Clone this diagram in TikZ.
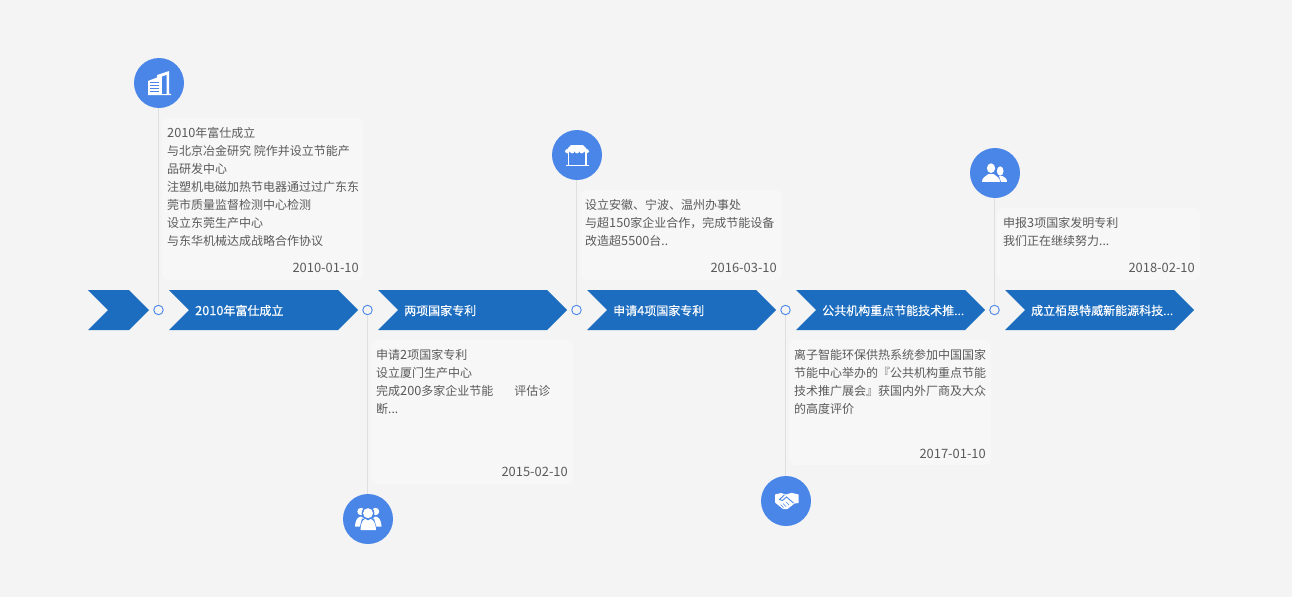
\documentclass[tikz,border=0pt]{standalone}
\usepackage{fontspec}
\setmainfont{Noto Sans CJK SC}
\newfontfamily\dgfont[Scale=1.06]{Noto Sans CJK SC}
\newfontfamily\chevfont[FakeBold=0.35]{Noto Sans CJK SC}
\newfontfamily\chevdg[FakeBold=0.35,Scale=1.06]{Noto Sans CJK SC}
\newcommand{\dg}[1]{{\dgfont #1}}
\definecolor{pagebg}{HTML}{F4F4F4}
\definecolor{cardbg}{HTML}{F7F7F7}
\definecolor{chev}{HTML}{1C6DBF}
\definecolor{iconblue}{HTML}{4A86E8}
\definecolor{stemgrey}{HTML}{DFDFDF}
\definecolor{bodytxt}{HTML}{5A5A5A}
\tikzset{
  x=1pt,y=-1pt,
  chevron/.style={fill=chev,draw=none},
  chevtext/.style={anchor=west,inner sep=0pt,text=white,font=\fontsize{12}{14}\selectfont\chevfont},
  card/.style={fill=cardbg,draw=none,rounded corners=6pt,inner sep=0pt,anchor=north west},
  bodytext/.style={anchor=north west,inner sep=0pt,align=left,text=bodytxt,font=\fontsize{12}{18}\selectfont},
  datetext/.style={anchor=east,inner sep=0pt,text=bodytxt,font=\fontsize{12.9}{14}\selectfont},
  dot/.style={circle,draw=iconblue,fill=pagebg,line width=0.9pt,minimum size=9.5pt,inner sep=0pt},
  iconbase/.style={circle,fill=iconblue,minimum size=50pt,inner sep=0pt},
  stem/.style={draw=stemgrey,line width=1pt},
  glyph/.style={fill=white,draw=none},
}
\begin{document}
\begin{tikzpicture}
\useasboundingbox (0,0) rectangle (1292,597);
\fill[pagebg] (0,0) rectangle (1292,597);

% cards
\node[card,minimum width=201pt,minimum height=162pt] (card1) at (162,118) {};
\node[card,minimum width=202pt,minimum height=144pt] (card2) at (371,340) {};
\node[card,minimum width=202pt,minimum height=90pt] (card3) at (580,190) {};
\node[card,minimum width=202pt,minimum height=125pt] (card4) at (789,340) {};
\node[card,minimum width=203pt,minimum height=72pt] (card5) at (997,208) {};

% chevrons
\fill[chevron] (88,290) -- (129,290) -- (149,310) -- (129,330) -- (88,330) -- (108,310) -- cycle;
\fill[chevron] (169,290) -- (338,290) -- (358,310) -- (338,330) -- (169,330) -- (189,310) -- cycle;
\fill[chevron] (378,290) -- (547,290) -- (567,310) -- (547,330) -- (378,330) -- (398,310) -- cycle;
\fill[chevron] (587,290) -- (756,290) -- (776,310) -- (756,330) -- (587,330) -- (607,310) -- cycle;
\fill[chevron] (796,290) -- (965,290) -- (985,310) -- (965,330) -- (796,330) -- (816,310) -- cycle;
\fill[chevron] (1005,290) -- (1174,290) -- (1194,310) -- (1174,330) -- (1005,330) -- (1025,310) -- cycle;

% icons and dots
\node[iconbase] (icon1) at (159,83) {};
\node[iconbase] (icon2) at (368,519) {};
\node[iconbase] (icon3) at (577,155) {};
\node[iconbase] (icon4) at (786,501) {};
\node[iconbase] (icon5) at (995,173) {};
\node[dot] (dot1) at (158.5,310) {};
\node[dot] (dot2) at (367.5,310) {};
\node[dot] (dot3) at (576.5,310) {};
\node[dot] (dot4) at (785.5,310) {};
\node[dot] (dot5) at (994.5,310) {};

% stems
\draw[stem] (dot1.north) -- (dot1.north |- icon1.south);
\draw[stem] (dot2.south) -- (dot2.south |- icon2.north);
\draw[stem] (dot3.north) -- (dot3.north |- icon3.south);
\draw[stem] (dot4.south) -- (dot4.south |- icon4.north);
\draw[stem] (dot5.north) -- (dot5.north |- icon5.south);

% chevron labels
\node[chevtext] (label1) at (195,310.5) {{\chevdg 2010}年富仕成立};
\node[chevtext] (label2) at (404,310.5) {两项国家专利};
\node[chevtext] (label3) at (613,310.5) {申请{\chevdg 4}项国家专利};
\node[chevtext] (label4) at (822,310.5) {公共机构重点节能技术推...};
\node[chevtext] (label5) at (1031,310.5) {成立栢思特威新能源科技...};

% card texts
\node[bodytext] (body1) at (167,127) {\dg{2010}年富仕成立\\与北京冶金研究 院作并设立节能产\\品研发中心\\注塑机电磁加热节电器通过过广东东\\莞市质量监督检测中心检测\\设立东莞生产中心\\与东华机械达成战略合作协议};
\node[datetext] (date1) at (359,267.5) {2010-01-10};
\node[bodytext] (body2) at (376,349) {申请\dg{2}项国家专利\\设立厦门生产中心\\完成\dg{200}多家企业节能\hspace{21pt}评估诊\\断...};
\node[datetext] (date2) at (568,471.5) {2015-02-10};
\node[bodytext] (body3) at (585,199) {设立安徽、宁波、温州办事处\\与超\dg{150}家企业合作，完成节能设备\\改造超\dg{5500}台..};
\node[datetext] (date3) at (777,267.5) {2016-03-10};
\node[bodytext] (body4) at (794,349) {离子智能环保供热系统参加中国国家\\节能中心举办的『公共机构重点节能\\技术推广展会』获国内外厂商及大众\\的高度评价};
\node[datetext] (date4) at (986,453.5) {2017-01-10};
\node[bodytext] (body5) at (1003,217) {申报\dg{3}项国家发明专利\\我们正在继续努力...};
\node[datetext] (date5) at (1195,267.5) {2018-02-10};

% building glyph
\fill[glyph] (148,81) -- (157,77.5) -- (157,75) -- (169,71) -- (169,93.8) -- (171,93.8) -- (171,95) -- (148,95) -- cycle;
\fill[iconblue] (162,76.6) -- (166.5,75) -- (166.5,93.8) -- (162,93.8) -- cycle;
\foreach \yy in {82.2,85.2,88.2,91.2}{\fill[iconblue] (150,\yy) rectangle (158.5,\yy+1.1);}

% people glyph (three)
\fill[glyph] (361,511.5) circle (3.7);
\fill[glyph] (375.5,511.5) circle (3.7);
\fill[iconblue] (368,513.2) circle (6.4);
\fill[glyph] (355,526.5) .. controls (355.5,519) and (358,517) .. (361,516.5) -- (365,519) -- (361,526.5) -- cycle;
\fill[glyph] (381.5,526.5) .. controls (381,519) and (378.5,517) .. (375.5,516.5) -- (372,519) -- (376,526.5) -- cycle;
\fill[iconblue] (358.8,531) -- (362,518.5) -- (374,518.5) -- (377.5,531) -- cycle;
\fill[glyph] (368,513.2) circle (5);
\fill[glyph] (360.5,530) .. controls (361,522) and (363,519.5) .. (365.5,519) -- (368,520.5) -- (370.5,519) .. controls (373,519.5) and (375.5,522) .. (376,530) -- cycle;

% shop glyph
\fill[glyph] (571,145) -- (583,145) -- (589,151.5) -- (565,151.5) -- cycle;
\foreach \cx in {567.4,572.2,577,581.8,586.6}{\fill[glyph] (\cx,151.2) circle (2.2);}
\fill[glyph] (567.5,153) rectangle (569,165);
\fill[glyph] (585,153) rectangle (586.5,165);
\fill[glyph] (565.5,164.5) rectangle (588.5,166);

% handshake glyph
\fill[glyph] (775,494.5) -- (781,493) -- (786,494.5) -- (791.5,492.8) -- (798.5,494.5) -- (798.5,503) -- (794.5,503.5) -- (787.5,509) -- (783,509) -- (775,502.5) -- cycle;
\draw[iconblue,line width=0.9pt] (793.5,503) -- (786.5,497) -- (782.5,500.5) -- (779.5,499.5) -- (784.5,494.8);
\draw[iconblue,line width=0.7pt] (783.5,507.5) -- (780.5,504.5);
\draw[iconblue,line width=0.7pt] (786,506.5) -- (783,503.5);
\draw[iconblue,line width=0.7pt] (789,505) -- (786,502);

% two people glyph
\fill[glyph] (1000.2,171) ellipse (3.3 and 4.7);
\fill[glyph] (999,176) -- (1002.5,176) .. controls (1004.5,177.5) and (1007,178) .. (1007,181.8) -- (1001,181.8) -- cycle;
\fill[iconblue] (996,164) -- (996,178) -- (1001.5,183) -- (998,183) -- (994,176) -- cycle;
\fill[iconblue] (995.2,165) circle (1.5);
\fill[glyph] (991,168.2) ellipse (4.1 and 4.9);
\fill[glyph] (982,181.8) .. controls (982,177.5) and (985.5,176.5) .. (988.5,174) -- (993.5,174) .. controls (996.5,176.5) and (1000,177.5) .. (1000,181.8) -- cycle;
\end{tikzpicture}
\end{document}
